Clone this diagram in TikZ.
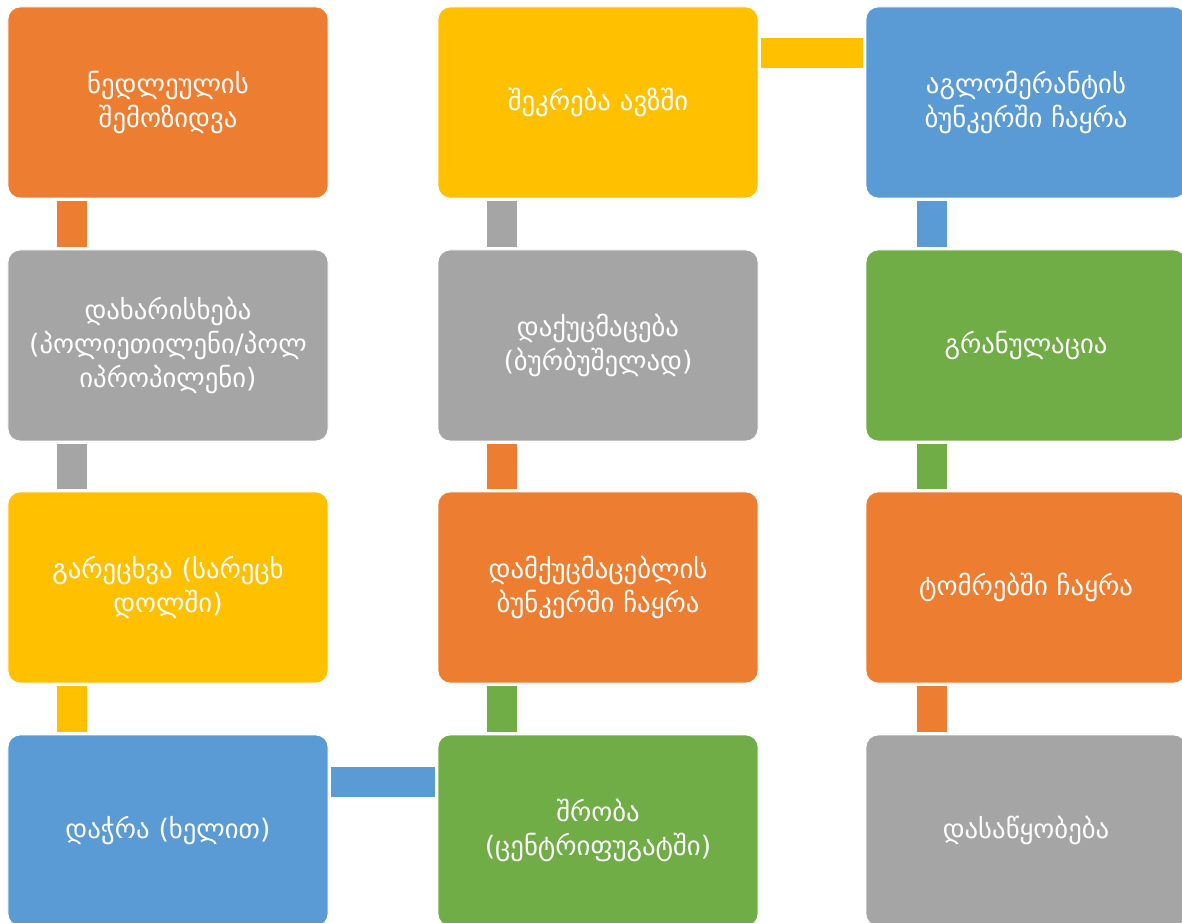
\documentclass[tikz,border=0pt]{standalone}
\usepackage{fontspec}
\setmainfont{DejaVu Sans}
\usetikzlibrary{positioning,calc}
\definecolor{orange}{HTML}{ED7D31}
\definecolor{gray}{HTML}{A5A5A5}
\definecolor{yellow}{HTML}{FFC000}
\definecolor{blue}{HTML}{5B9BD5}
\definecolor{green}{HTML}{70AD47}
\tikzset{
  every node/.style={font=\fontsize{19}{24.5}\selectfont},
  box/.style={draw=white, line width=0.6pt, rounded corners=0.3cm, minimum width=8cm, minimum height=4.775cm, text width=7.6cm, align=center, text=white, inner sep=0pt},
  orangebox/.style={box, fill=orange},
  graybox/.style={box, fill=gray},
  yellowbox/.style={box, fill=yellow},
  bluebox/.style={box, fill=blue},
  greenbox/.style={box, fill=green},
  bar/.style={line width=0.75cm, draw=#1},
}

\begin{document}
\begin{tikzpicture}
\useasboundingbox (0,0) rectangle (29.55,-23.075);
\clip (0,0) rectangle (29.55,-23.075);
% left column, top to bottom
\node[orangebox] (gather) at (4.2,-2.5625) {ნედლეულის\\შემოზიდვა};
\node[graybox] (sort) at (4.2,-8.6375) {დახარისხება\\(პოლიეთილენი/პოლ\\იპროპილენი)};
\node[yellowbox] (wash) at (4.2,-14.6875) {გარეცხვა (სარეცხ\\დოლში)};
\node[bluebox] (cut) at (4.2,-20.7625) {დაჭრა (ხელით)};
% middle column, bottom to top
\node[greenbox] (dry) at (14.95,-20.7625) {შრობა\\(ცენტრიფუგატში)};
\node[orangebox] (load) at (14.95,-14.6875) {დამქუცმაცებლის\\ბუნკერში ჩაყრა};
\node[graybox] (crush) at (14.95,-8.6375) {დაქუცმაცება\\(ბურბუშელად)};
\node[yellowbox] (tank) at (14.95,-2.5625) {შეკრება ავზში};
% right column, top to bottom
\node[bluebox] (agglo) at (25.65,-2.5625) {აგლომერანტის\\ბუნკერში ჩაყრა};
\node[greenbox] (granul) at (25.65,-8.6375) {გრანულაცია};
\node[orangebox] (bag) at (25.65,-14.6875) {ტომრებში ჩაყრა};
\node[graybox] (store) at (25.65,-20.7625) {დასაწყობება};

\draw[bar=orange] ([xshift=-2.4cm,yshift=-0.075cm]gather.south) -- ([xshift=-2.4cm,yshift=0.075cm]sort.north);
\draw[bar=gray] ([xshift=-2.4cm,yshift=-0.075cm]sort.south) -- ([xshift=-2.4cm,yshift=0.075cm]wash.north);
\draw[bar=yellow] ([xshift=-2.4cm,yshift=-0.075cm]wash.south) -- ([xshift=-2.4cm,yshift=0.075cm]cut.north);
\draw[bar=blue] ([xshift=0.075cm,yshift=1.225cm]cut.east) -- ([xshift=-0.075cm,yshift=1.225cm]dry.west);
\draw[bar=green] ([xshift=-2.4cm,yshift=0.075cm]dry.north) -- ([xshift=-2.4cm,yshift=-0.075cm]load.south);
\draw[bar=orange] ([xshift=-2.4cm,yshift=0.075cm]load.north) -- ([xshift=-2.4cm,yshift=-0.075cm]crush.south);
\draw[bar=gray] ([xshift=-2.4cm,yshift=0.075cm]crush.north) -- ([xshift=-2.4cm,yshift=-0.075cm]tank.south);
\draw[bar=yellow] ([xshift=0.075cm,yshift=1.225cm]tank.east) -- ([xshift=-0.075cm,yshift=1.225cm]agglo.west);
\draw[bar=blue] ([xshift=-2.35cm,yshift=-0.075cm]agglo.south) -- ([xshift=-2.35cm,yshift=0.075cm]granul.north);
\draw[bar=green] ([xshift=-2.35cm,yshift=-0.075cm]granul.south) -- ([xshift=-2.35cm,yshift=0.075cm]bag.north);
\draw[bar=orange] ([xshift=-2.35cm,yshift=-0.075cm]bag.south) -- ([xshift=-2.35cm,yshift=0.075cm]store.north);
\end{tikzpicture}
\end{document}
